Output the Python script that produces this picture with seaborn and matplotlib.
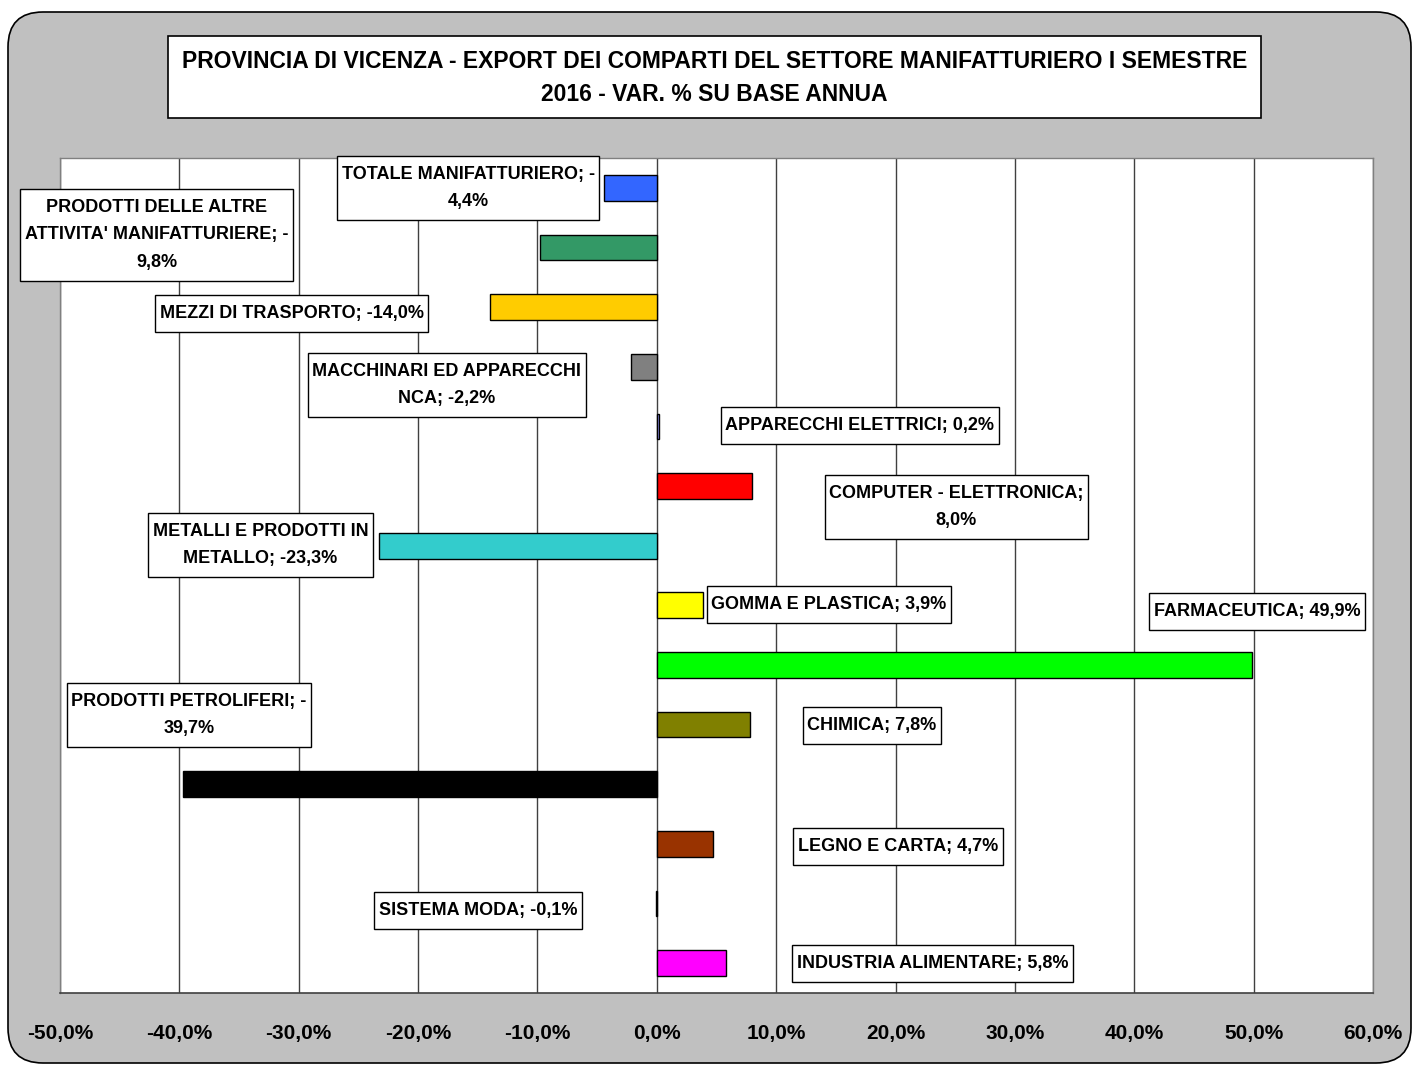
import matplotlib
matplotlib.use("Agg")
import matplotlib.pyplot as plt
import seaborn as sns
import pandas as pd
from matplotlib.patches import FancyBboxPatch, Rectangle
from matplotlib.path import Path
from matplotlib.ticker import FuncFormatter, MultipleLocator

# ---------- Data ----------
categories = [
    "TOTALE MANIFATTURIERO",
    "PRODOTTI DELLE ALTRE ATTIVITA' MANIFATTURIERE",
    "MEZZI DI TRASPORTO",
    "MACCHINARI ED APPARECCHI NCA",
    "APPARECCHI ELETTRICI",
    "COMPUTER - ELETTRONICA",
    "METALLI E PRODOTTI IN METALLO",
    "GOMMA E PLASTICA",
    "FARMACEUTICA",
    "CHIMICA",
    "PRODOTTI PETROLIFERI",
    "LEGNO E CARTA",
    "SISTEMA MODA",
    "INDUSTRIA ALIMENTARE",
]
values = [-4.4, -9.8, -14.0, -2.2, 0.2, 8.0, -23.3, 3.9, 49.9, 7.8, -39.7, 4.7, -0.1, 5.8]
bar_colors = ["#3366FF", "#339966", "#FFCC00", "#808080", "#9999FF", "#FF0000",
              "#33CCCC", "#FFFF00", "#00FF00", "#808000", "#000000", "#993300",
              "#000080", "#FF00FF"]

label_texts = [
    "TOTALE MANIFATTURIERO; -\n4,4%",
    "PRODOTTI DELLE ALTRE\nATTIVITA' MANIFATTURIERE; -\n9,8%",
    "MEZZI DI TRASPORTO; -14,0%",
    "MACCHINARI ED APPARECCHI\nNCA; -2,2%",
    "APPARECCHI ELETTRICI; 0,2%",
    "COMPUTER - ELETTRONICA;\n8,0%",
    "METALLI E PRODOTTI IN\nMETALLO; -23,3%",
    "GOMMA E PLASTICA; 3,9%",
    "FARMACEUTICA; 49,9%",
    "CHIMICA; 7,8%",
    "PRODOTTI PETROLIFERI; -\n39,7%",
    "LEGNO E CARTA; 4,7%",
    "SISTEMA MODA; -0,1%",
    "INDUSTRIA ALIMENTARE; 5,8%",
]
# label box centres (data coords: x in %, y in category units)
label_x = [-15.8, -41.9, -30.6, -17.6, 17.0, 25.1, -33.2, 14.4, 50.3, 18.0, -39.2, 20.2, -15.0, 23.1]
label_y = [0.0, 0.79, 2.10, 3.31, 3.99, 5.35, 5.99, 6.99, 7.10, 9.01, 8.84, 11.04, 12.11, 13.01]

title_lines = "PROVINCIA DI VICENZA - EXPORT DEI COMPARTI DEL SETTORE MANIFATTURIERO I SEMESTRE\n2016 - VAR. % SU BASE ANNUA"


# Excel-like label box: little padding left/right, more top/bottom
def label_box(x0, y0, width, height, mutation_size):
    px = 0.25 * mutation_size
    py = 0.55 * mutation_size
    x0, y0 = x0 - px, y0 - py
    x1, y1 = x0 + width + 2 * px, y0 + height + 2 * py
    return Path([(x0, y0), (x1, y0), (x1, y1), (x0, y1), (x0, y0)], closed=True)


# ---------- Style ----------
sns.set_style("white")
plt.rcParams["font.family"] = ["Liberation Sans", "DejaVu Sans"]
plt.rcParams["font.weight"] = "bold"
plt.rcParams["text.color"] = "black"
plt.rcParams["xtick.color"] = "black"

df = pd.DataFrame({"categoria": categories, "var": values})
palette = dict(zip(categories, bar_colors))

fig = plt.figure(figsize=(14.13, 10.66), dpi=100)
fig.patch.set_facecolor("white")

# rounded grey chart area
bg = FancyBboxPatch((0.08, 0.03), 14.03, 10.51,
                    boxstyle="round,pad=0,rounding_size=0.35",
                    transform=fig.dpi_scale_trans,
                    facecolor="#C0C0C0", edgecolor="black", linewidth=1.2,
                    zorder=-5)
fig.patches.append(bg)

# title box
W, H = 1413, 1066
fig.patches.append(Rectangle((168 / W, 1 - 118 / H), (1261 - 168) / W, (118 - 36) / H,
                             transform=fig.transFigure, facecolor="white",
                             edgecolor="black", linewidth=1.2, zorder=-4))
fig.text(714.5 / W, 1 - 78 / H, title_lines, ha="center", va="center",
         fontsize=16.5, fontweight="bold", linespacing=1.6, color="black")

ax = fig.add_axes([60 / W, 1 - 993 / H, (1373 - 60) / W, (993 - 158) / H])
ax.set_facecolor("white")

sns.barplot(data=df, x="var", y="categoria", hue="categoria", palette=palette,
            legend=False, width=0.43, edgecolor="black", linewidth=1.0,
            saturation=1, ax=ax)

ax.set_xlim(-50, 60)
ax.set_ylim(13.5, -0.5)
ax.xaxis.set_major_locator(MultipleLocator(10))
ax.xaxis.set_major_formatter(FuncFormatter(lambda v, p: f"{v:.1f}%".replace(".", ",")))
ax.set_yticks([])
ax.set_xlabel("")
ax.set_ylabel("")
ax.set_axisbelow(True)
ax.grid(axis="x", color="#404040", linewidth=1)
ax.tick_params(axis="x", direction="out", length=6, width=1, color="#404040",
               pad=16, labelsize=15, labelcolor="black")
for lab in ax.get_xticklabels():
    lab.set_fontweight("bold")

for side in ["left", "top", "right"]:
    ax.spines[side].set_color("#808080")
    ax.spines[side].set_linewidth(1)
ax.spines["bottom"].set_color("#404040")
ax.spines["bottom"].set_linewidth(1.2)

# data labels in boxes
for txt, lx, ly in zip(label_texts, label_x, label_y):
    ax.text(lx, ly, txt, ha="center", va="center", fontsize=13, fontweight="bold",
            linespacing=1.8, multialignment="center", zorder=10, clip_on=False,
            color="black",
            bbox=dict(boxstyle=label_box, facecolor="white",
                      edgecolor="black", linewidth=1))

fig.savefig("out.png", dpi=100)
